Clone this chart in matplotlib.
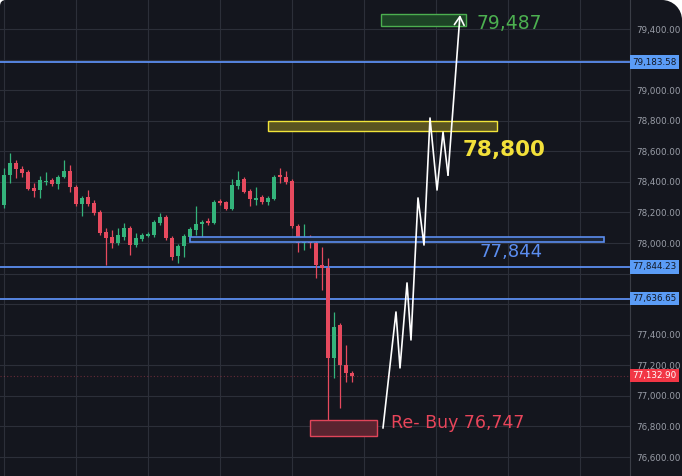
import matplotlib.pyplot as plt
import matplotlib.transforms as mtransforms
from matplotlib.patches import FancyBboxPatch, Rectangle, Circle
from matplotlib.ticker import FuncFormatter, MultipleLocator
import numpy as np

# candle data (bar index -1 .. 58)
opens = [78105, 78249, 78445, 78524, 78484, 78465, 78360, 78347, 78399, 78412,
         78386, 78432, 78471, 78367, 78255, 78301, 78262, 78203, 78072, 78040,
         78000, 78040, 78099, 77987, 78027, 78046, 78053, 78131, 78170, 78033,
         77915, 77981, 78040, 78085, 78125, 78144, 78131, 78275, 78269, 78223,
         78373, 78419, 78341, 78282, 78301, 78269, 78288, 78445, 78432, 78406,
         78112, 78000, 78040, 78000, 77857, 77837, 77248, 77464, 77203, 77150]
closes = [78262, 78445, 78524, 78484, 78458, 78354, 78341, 78412, 78406, 78386,
          78432, 78471, 78367, 78255, 78295, 78255, 78197, 78066, 78033, 78000,
          78053, 78099, 77987, 78033, 78053, 78059, 78138, 78170, 78033, 77909,
          77981, 78046, 78092, 78125, 78138, 78131, 78269, 78262, 78223, 78380,
          78412, 78334, 78288, 78295, 78269, 78295, 78432, 78432, 78399, 78112,
          78000, 78040, 78000, 77857, 77837, 77248, 77451, 77203, 77150, 77133]
highs = [78275, 78491, 78589, 78543, 78504, 78478, 78393, 78439, 78465, 78426,
         78445, 78543, 78511, 78380, 78308, 78347, 78282, 78216, 78099, 78085,
         78099, 78131, 78112, 78066, 78066, 78072, 78151, 78197, 78184, 78046,
         77994, 78059, 78105, 78242, 78151, 78164, 78282, 78288, 78275, 78419,
         78471, 78432, 78354, 78367, 78314, 78308, 78445, 78491, 78471, 78419,
         78125, 78125, 78053, 78013, 77974, 77902, 77549, 77477, 77333, 77163]
lows = [78060, 78229, 78393, 78426, 78432, 78347, 78301, 78295, 78380, 78373,
        78354, 78426, 78334, 78242, 78177, 78242, 78184, 78053, 77857, 77968,
        77987, 78020, 77922, 77974, 78013, 78040, 78040, 78118, 78020, 77889,
        77870, 77909, 78020, 78053, 78027, 78118, 78125, 78249, 78216, 78216,
        78354, 78327, 78242, 78249, 78255, 78249, 78282, 78393, 78386, 78099,
        77942, 77955, 77968, 77772, 77693, 76745, 77118, 76921, 77091, 77091]

# horizontal levels with price tags
levels = [79183.58, 77844.23, 77636.65]
last_price = 77132.90
# axis ticks hidden behind the level tags
hidden_ticks = [79200, 77800, 77600]

# projected path (bar index, price)
path_x = [63.17, 65.33, 66.0, 67.17, 67.83, 69.0, 70.0, 71.0, 72.17, 73.17, 74.0, 76.0]
path_y = [76791, 77549, 77183, 77739, 77366, 78295, 77987, 78818, 78347, 78726, 78445, 79492]

# zones: (x0, x1, y0, y1)
zone_green = (62.83, 77.0, 79420, 79498)
zone_yellow = (44.0, 82.17, 78733, 78798)
zone_blue = (31.0, 100.0, 78007, 78040)
zone_red = (51.0, 62.17, 76738, 76843)

BG = '#14161e'
UP = '#34b37b'
DN = '#e64a5e'
BLUE = '#5b8def'

fig = plt.figure(figsize=(6.82, 4.76), dpi=100)
fig.patch.set_facecolor('white')
fig.add_artist(FancyBboxPatch((0, -0.5), 6.82, 5.26, boxstyle='round,pad=0,rounding_size=0.06',
                              transform=fig.dpi_scale_trans, fc=BG, ec='none', zorder=-10))
# round top-right corner
fig.add_artist(Rectangle((6.82 - 0.2, 4.76 - 0.2), 0.2, 0.2, transform=fig.dpi_scale_trans,
                         fc='white', ec='none', zorder=-9))
fig.add_artist(Circle((6.82 - 0.2, 4.76 - 0.2), 0.2, transform=fig.dpi_scale_trans,
                      fc=BG, ec='none', zorder=-8))

ax = fig.add_axes([0, 0, 630 / 682, 1])
ax.set_facecolor('none')
ax.set_xlim(-4 / 6, 626 / 6)
ax.set_ylim(76476, 79590)

# grid
ax.yaxis.set_major_locator(MultipleLocator(200))
for y in np.arange(76600, 79600, 200):
    ax.axhline(y, color='#2c2f39', lw=0.8, zorder=0)
for x in range(0, 104, 12):
    ax.axvline(x, color='#2c2f39', lw=0.8, zorder=0)

# candles
xs = np.arange(len(opens)) - 1
for x, o, h, l, c in zip(xs, opens, highs, lows, closes):
    col = UP if c >= o else DN
    ax.vlines(x, l, h, color=col, lw=0.9, zorder=3)
    ax.add_patch(Rectangle((x - 0.35, min(o, c)), 0.7, max(abs(c - o), 8),
                           fc=col, ec='none', zorder=4))

# levels
for lv in levels:
    ax.axhline(lv, color=BLUE, lw=1.3, zorder=2)
ax.axhline(last_price, color=DN, lw=0.8, ls=(0, (1, 2)), alpha=0.4, zorder=2)

# zones
def zone(z, fc, ec, lw=1.0):
    x0, x1, y0, y1 = z
    ax.add_patch(Rectangle((x0, y0), x1 - x0, y1 - y0, fc=fc, ec=ec, lw=lw, zorder=5))

zone(zone_blue, '#1c2638', BLUE, 1.2)
zone(zone_yellow, '#5a5420', '#f2e53a', 1.0)
zone(zone_green, '#1d4426', '#4caf50', 1.0)
zone(zone_red, '#5a2430', '#e0455a', 1.0)

# path with arrow
ax.plot(path_x[:-1], path_y[:-1], color='white', lw=1.2, zorder=6)
ax.annotate('', xy=(path_x[-1], path_y[-1]), xytext=(path_x[-2], path_y[-2]),
            arrowprops=dict(arrowstyle='->,head_length=0.6,head_width=0.35', color='white', lw=1.2,
                            shrinkA=0, shrinkB=0), zorder=6)

# labels
ax.text(78.67, 79433, '79,487', color='#4caf50', fontsize=13.5, va='center', ha='left', zorder=7)
ax.text(76.5, 78609, '78,800', color='#f2e03a', fontsize=15.5, fontweight='bold', va='center', ha='left', zorder=7)
ax.text(79.33, 77942, '77,844', color=BLUE, fontsize=13, va='center', ha='left', zorder=7)
ax.text(64.5, 76823, 'Re- Buy 76,747', color='#e8455a', fontsize=12.5, va='center', ha='left', zorder=7)

# price axis
ax.yaxis.tick_right()
ax.yaxis.set_major_formatter(FuncFormatter(
    lambda v, p: '' if round(v) in hidden_ticks else f'{v:,.2f}'))
ax.tick_params(axis='y', length=0, pad=4.5, labelsize=6.3, labelcolor='#9a9ea8')
ax.set_xticks([])
for s in ['top', 'left', 'bottom']:
    ax.spines[s].set_visible(False)
ax.spines['right'].set_color('#3a3d46')
ax.spines['right'].set_linewidth(0.8)

trans = mtransforms.blended_transform_factory(ax.transAxes, ax.transData)
for lv in levels:
    ax.text(1.004, lv, f'{lv:,.2f}', transform=trans, fontsize=6.3, color='#131722',
            va='center', ha='left', clip_on=False, zorder=8,
            bbox=dict(boxstyle='square,pad=0.25', fc='#5b9cf6', ec='none'))
ax.text(1.004, last_price, f'{last_price:,.2f}', transform=trans, fontsize=6.3, color='white',
        va='center', ha='left', clip_on=False, zorder=8,
        bbox=dict(boxstyle='square,pad=0.25', fc='#f23645', ec='none'))

fig.savefig('out.png', dpi=100, facecolor=fig.get_facecolor())
